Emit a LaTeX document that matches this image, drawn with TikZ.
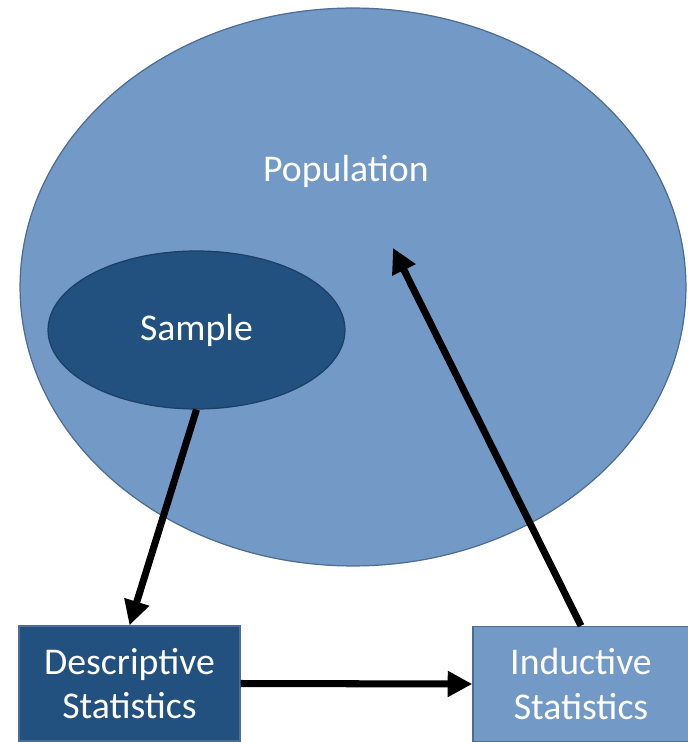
\documentclass[tikz,border=0pt]{standalone}
\usepackage{fontspec}
\setmainfont{Carlito}
\usetikzlibrary{shapes.geometric,arrows.meta}
\definecolor{lightblue}{HTML}{7399C6}
\definecolor{darkblue}{HTML}{22507F}
\definecolor{edgeblue}{HTML}{4D6D93}
\begin{document}
\begin{tikzpicture}[x=0.02cm,y=-0.02cm,
    every node/.style={text=white,font=\fontsize{21.5}{25.5}\selectfont,align=center},
    blob/.style={ellipse,draw=edgeblue,line width=0.7pt,inner sep=0pt},
    box/.style={rectangle,draw=edgeblue,line width=0.8pt,inner sep=0pt},
    arr/.style={line width=4pt,-{Triangle[length=14pt,width=14pt]}}]
    \useasboundingbox (0,0) rectangle (688,742);
    \node[blob,fill=lightblue,minimum width=13.32cm,minimum height=11.16cm] (pop) at (353,287) {};
    \node (poplabel) at (346,171) {Population};
    \coordinate (popin) at (393,248);
    \node[blob,fill=darkblue,draw=darkblue!80!black,minimum width=5.94cm,minimum height=3.16cm] (sample) at (196.5,330) {Sample};
    \node[box,fill=darkblue,minimum width=4.42cm,minimum height=2.3cm] (desc) at (129.5,683.5) {Descriptive\\Statistics};
    \node[box,fill=lightblue,minimum width=4.32cm,minimum height=2.3cm] (ind) at (581,684) {Inductive\\Statistics};
    \draw[arr] (sample.south) -- (desc.north);
    \draw[arr] (desc.east) -- (ind.west);
    \draw[arr] (ind.north) -- (popin);
\end{tikzpicture}
\end{document}
